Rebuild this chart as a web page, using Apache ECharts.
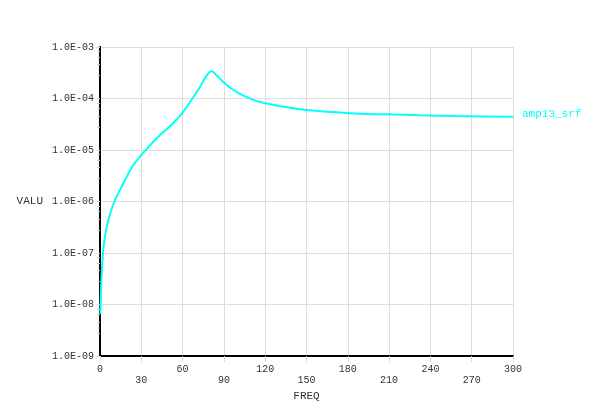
<!DOCTYPE html>
<html>
<head>
<meta charset="utf-8">
<script src="https://cdn.jsdelivr.net/npm/echarts@6/dist/echarts.min.js"></script>
<style>html,body{margin:0;padding:0;background:#fff}#c{width:600px;height:417px}</style>
</head>
<body>
<div id="c"></div>
<script>
var seriesName = 'amp13_srf';
var freq = [0.3, 1.0, 2.2, 3.6, 6.1, 10.4, 15.7, 24, 32.7, 43.6, 53.2, 60.5, 67.8, 72.6, 77.5, 81.1, 84.7, 89.6, 95, 101, 107, 113, 120, 138, 150, 164.7, 179.2, 193.7, 208.3, 232.4, 260, 300];
var valu = [6.6e-9, 3.0e-8, 1.0e-7, 2.1e-7, 4.4e-7, 1.0e-6, 1.94e-6, 5.0e-6, 9.6e-6, 1.95e-5, 3.3e-5, 5.55e-5, 1.07e-4, 1.67e-4, 2.82e-4, 3.37e-4, 2.82e-4, 2.09e-4, 1.58e-4, 1.26e-4, 1.05e-4, 9.1e-5, 8.1e-5, 6.6e-5, 5.98e-5, 5.55e-5, 5.25e-5, 5.0e-5, 4.93e-5, 4.72e-5, 4.55e-5, 4.43e-5];
var xName = 'FREQ';
var yName = 'VALU';

var data = freq.map(function (f, i) { return [f, valu[i]]; });
var font = 'Liberation Mono';
function fmtY(v) {
  var e = Math.round(Math.log10(v));
  var s = Math.abs(e) < 10 ? '0' + Math.abs(e) : '' + Math.abs(e);
  return '1.0E' + (e < 0 ? '-' : '+') + s;
}
var chart = echarts.init(document.getElementById('c'));
chart.setOption({
  animation: false,
  grid: { left: 100, right: 87, top: 47, bottom: 61, containLabel: false },
  xAxis: {
    type: 'value', min: 0, max: 300, interval: 30,
    name: xName, nameLocation: 'middle', nameGap: 31,
    nameTextStyle: { fontFamily: font, fontSize: 11, color: '#333' },
    axisLine: { show: true, onZero: false, lineStyle: { color: '#000', width: 2 } },
    axisTick: { show: true, length: 6, lineStyle: { color: '#ddd' } },
    axisLabel: {
      margin: 8, fontFamily: font, fontSize: 10, color: '#333', lineHeight: 11,
      formatter: function (v) { return (Math.round(v / 30) % 2) ? '\n' + v : '' + v; }
    },
    splitLine: { show: true, lineStyle: { color: '#ddd', width: 1 } }
  },
  yAxis: {
    type: 'log', logBase: 10, min: 1e-9, max: 1e-3,
    name: yName, nameLocation: 'middle', nameRotate: 0, nameGap: 57,
    nameTextStyle: { fontFamily: font, fontSize: 11, color: '#333', padding: [0, 0, 8, 0] },
    axisLine: { show: true, lineStyle: { color: '#000', width: 2 } },
    axisTick: { show: true, length: 4, lineStyle: { color: '#ddd' } },
    minorTick: { show: true, splitNumber: 5, length: 3, lineStyle: { color: '#ccc' } },
    axisLabel: { margin: 6, fontFamily: font, fontSize: 10, color: '#333', formatter: fmtY },
    splitLine: { show: true, lineStyle: { color: '#ddd', width: 1 } }
  },
  series: [{
    name: seriesName, type: 'line', data: data, smooth: 0.3, symbol: 'none',
    lineStyle: { color: '#00ffff', width: 2 },
    endLabel: { show: true, formatter: seriesName, color: '#00ffff', fontFamily: font, fontSize: 11, distance: 9, offset: [0, -3] }
  }]
});
</script>
</body>
</html>
